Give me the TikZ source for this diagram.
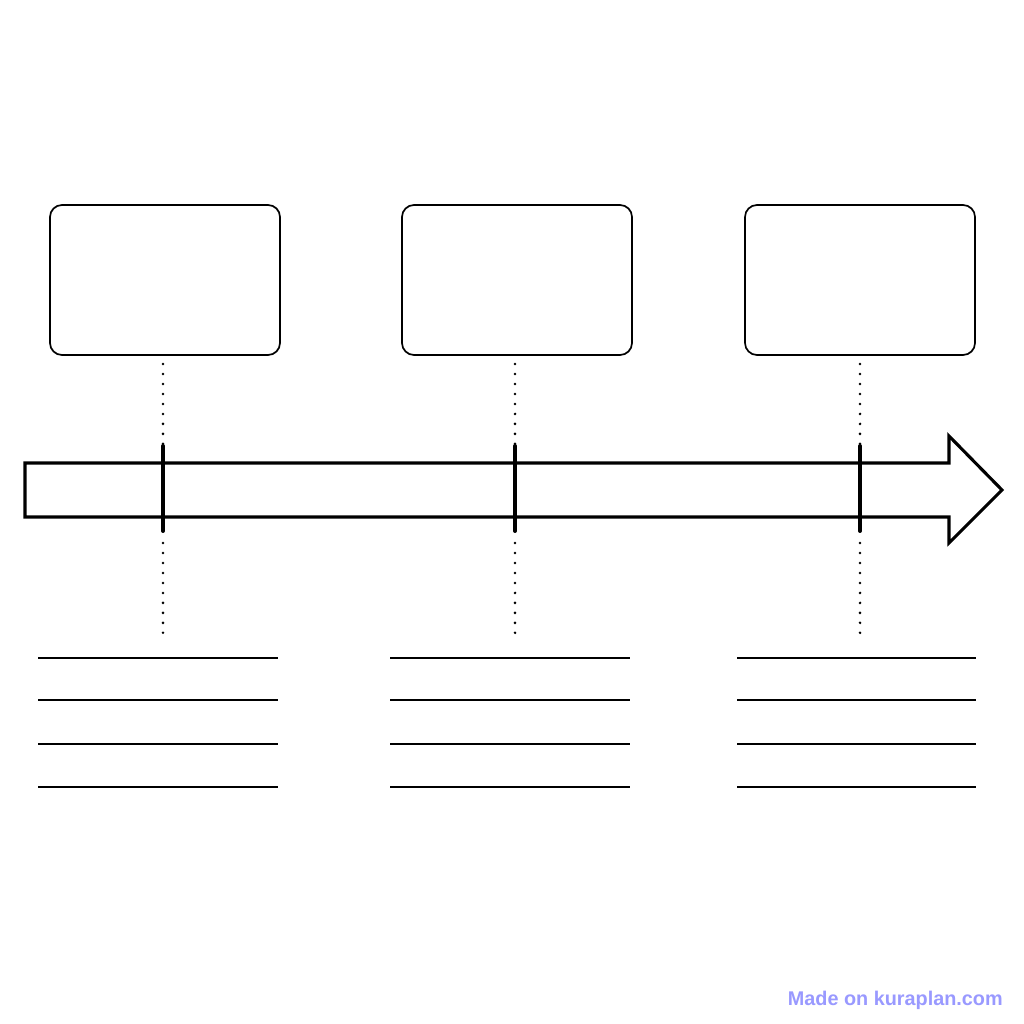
\documentclass[tikz,border=0pt]{standalone}
\usepackage{fontspec}
\setmainfont{Liberation Sans}
\begin{document}
\begin{tikzpicture}[x=0.25mm,y=-0.25mm,
  card/.style={draw,line width=1.2pt,rounded corners=3mm,minimum width=57.5mm,minimum height=37.5mm,inner sep=0pt},
  bodyline/.style={line width=2.2pt,line join=miter},
  tick/.style={line width=2.8pt,line cap=round},
  leader/.style={line width=2pt,line cap=round,dash pattern=on 0pt off 7.1pt},
  writeline/.style={line width=1.2pt}]
\useasboundingbox[fill=white] (0,0) rectangle (1024,1024);
% arrow
\draw[bodyline] (25,463) -- (949,463) -- (949,436) -- (1002,490) -- (949,543) -- (949,517) -- (25,517) -- cycle;
% cards
\foreach \i/\x in {1/165,2/517,3/860}{
  \node[card] (c\i) at (\x,280) {};
}
\foreach \i/\x in {1/163,2/515,3/860}{
  \coordinate (ttop\i) at (\x,446);
  \coordinate (tbot\i) at (\x,531);
  \coordinate (da\i) at (\x,364);
  \coordinate (db\i) at (\x,448);
  \coordinate (dc\i) at (\x,543);
  \coordinate (dd\i) at (\x,634);
  \draw[tick] (ttop\i) -- (tbot\i);
  \draw[leader] (da\i) -- (db\i);
  \draw[leader] (dc\i) -- (dd\i);
}
% writing lines
\foreach \i/\a/\b in {1/38/278,2/390/630,3/737/976}{
  \foreach \j/\y in {1/658,2/700,3/744,4/787}{
    \coordinate (l\i\j a) at (\a,\y);
    \coordinate (l\i\j b) at (\b,\y);
    \draw[writeline] (l\i\j a) -- (l\i\j b);
  }
}
\node[anchor=base east,inner sep=0pt,text=blue!40,font=\fontsize{14.1pt}{16pt}\selectfont\bfseries] (wm) at (1003,1005) {Made on kuraplan.com};
\end{tikzpicture}
\end{document}
